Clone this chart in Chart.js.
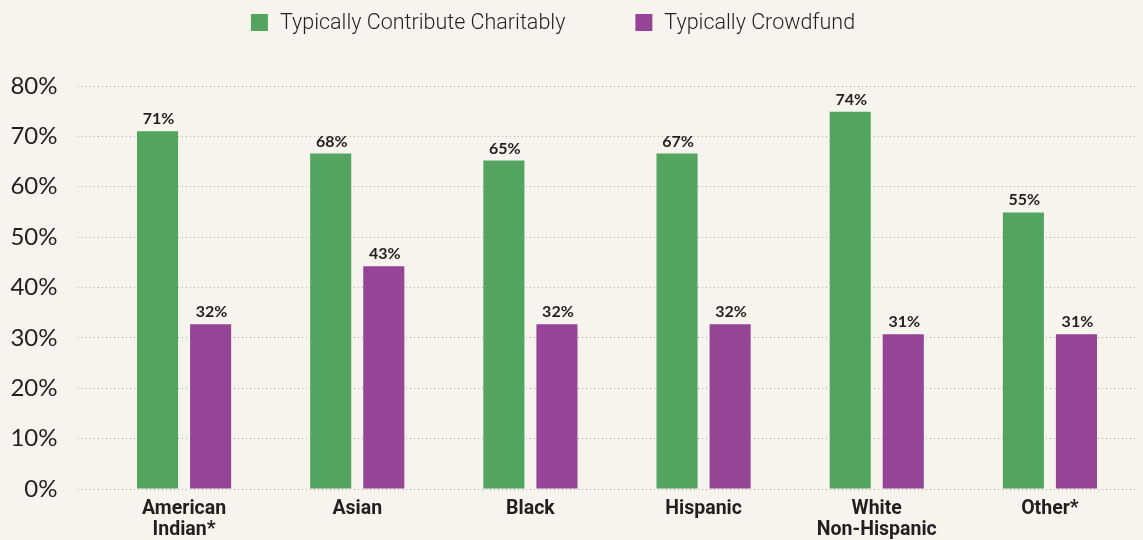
<!DOCTYPE html>
<html>
<head>
<meta charset="utf-8">
<script src="https://cdn.jsdelivr.net/npm/chart.js@4.4.1/dist/chart.umd.min.js"></script>
<style>
  html, body { margin: 0; padding: 0; background: #f7f4ee; }
  #wrap { width: 1143px; height: 540px; position: relative; }
</style>
</head>
<body>
<div id="wrap"><canvas id="chart"></canvas></div>
<script>
// --- Datos ---
const categories = [['American', 'Indian*'], 'Asian', 'Black', 'Hispanic', ['White', 'Non-Hispanic'], 'Other*'];
const charitable = [71, 66.6, 65.2, 66.6, 74.9, 54.9];
const charitableLabels = ['71%', '68%', '65%', '67%', '74%', '55%'];
const crowdfund = [32.7, 44.2, 32.7, 32.7, 30.7, 30.7];
const crowdfundLabels = ['32%', '43%', '32%', '32%', '31%', '31%'];
const yTicks = [0, 10, 20, 30, 40, 50, 60, 70, 80];

const TEXT = '#231f20';
const GREEN = '#52a45e';
const PURPLE = '#954496';
const GRID = '#b3b0aa';

/**
 * Etiquetas de valor encima de cada barra.
 */
const valueLabels = {
  id: 'valueLabels',
  afterDatasetsDraw(chart) {
    const ctx = chart.ctx;
    ctx.save();
    ctx.font = 'bold 16px Lato';
    ctx.fillStyle = TEXT;
    ctx.textAlign = 'center';
    ctx.textBaseline = 'alphabetic';
    chart.data.datasets.forEach((ds, i) => {
      const meta = chart.getDatasetMeta(i);
      meta.data.forEach((bar, j) => {
        ctx.fillText(ds.valueText[j], bar.x + 1, bar.y - 7);
      });
    });
    ctx.restore();
  }
};

/**
 * Leyenda propia arriba (cuadro + texto), centrada.
 */
const topLegend = {
  id: 'topLegend',
  afterDraw(chart) {
    const ctx = chart.ctx;
    ctx.save();
    ctx.font = '300 21.5px Roboto';
    ctx.textBaseline = 'middle';
    const box = 17, textGap = 12, itemGap = 70;
    const items = chart.data.datasets.map(ds => ({
      label: ds.label, color: ds.backgroundColor, w: box + textGap + ctx.measureText(ds.label).width
    }));
    const total = items.reduce((s, it) => s + it.w, 0) + itemGap * (items.length - 1);
    let x = 553 - total / 2;
    const y = 22.5;
    items.forEach(it => {
      ctx.fillStyle = it.color;
      ctx.fillRect(x, y - box / 2, box, box);
      ctx.fillStyle = TEXT;
      ctx.fillText(it.label, x + box + textGap, y + 1);
      x += it.w + itemGap;
    });
    ctx.restore();
  }
};

new Chart(document.getElementById('chart'), {
  type: 'bar',
  data: {
    labels: categories,
    datasets: [
      {
        label: 'Typically Contribute Charitably',
        data: charitable,
        valueText: charitableLabels,
        backgroundColor: GREEN
      },
      {
        label: 'Typically Crowdfund',
        data: crowdfund,
        valueText: crowdfundLabels,
        backgroundColor: PURPLE
      }
    ]
  },
  options: {
    responsive: true,
    maintainAspectRatio: false,
    animation: false,
    categoryPercentage: 0.613,
    barPercentage: 0.774,
    layout: { padding: { top: 86, right: 6.5, left: 0, bottom: 0 } },
    plugins: {
      legend: { display: false },
      tooltip: { enabled: false }
    },
    scales: {
      x: {
        grid: { display: false },
        border: { display: false },
        ticks: {
          color: TEXT,
          font: { family: 'Roboto', size: 19.5, weight: 'bold', lineHeight: 1.08 },
          padding: 2,
          maxRotation: 0,
          autoSkip: false
        },
        afterFit(scale) { scale.height = 51; }
      },
      y: {
        min: 0,
        max: 80,
        afterBuildTicks(scale) { scale.ticks = yTicks.map(v => ({ value: v })); },
        grid: {
          color: GRID,
          lineWidth: 1,
          drawTicks: true,
          tickLength: 20,
          tickColor: GRID,
          tickBorderDash: [1, 3]
        },
        border: { display: false, dash: [1, 3] },
        ticks: {
          color: TEXT,
          font: { family: 'Lato', size: 24 },
          padding: 20,
          callback: v => v + '%'
        },
        afterFit(scale) { scale.width = 97.5; }
      }
    }
  },
  plugins: [valueLabels, topLegend]
});
</script>
</body>
</html>
